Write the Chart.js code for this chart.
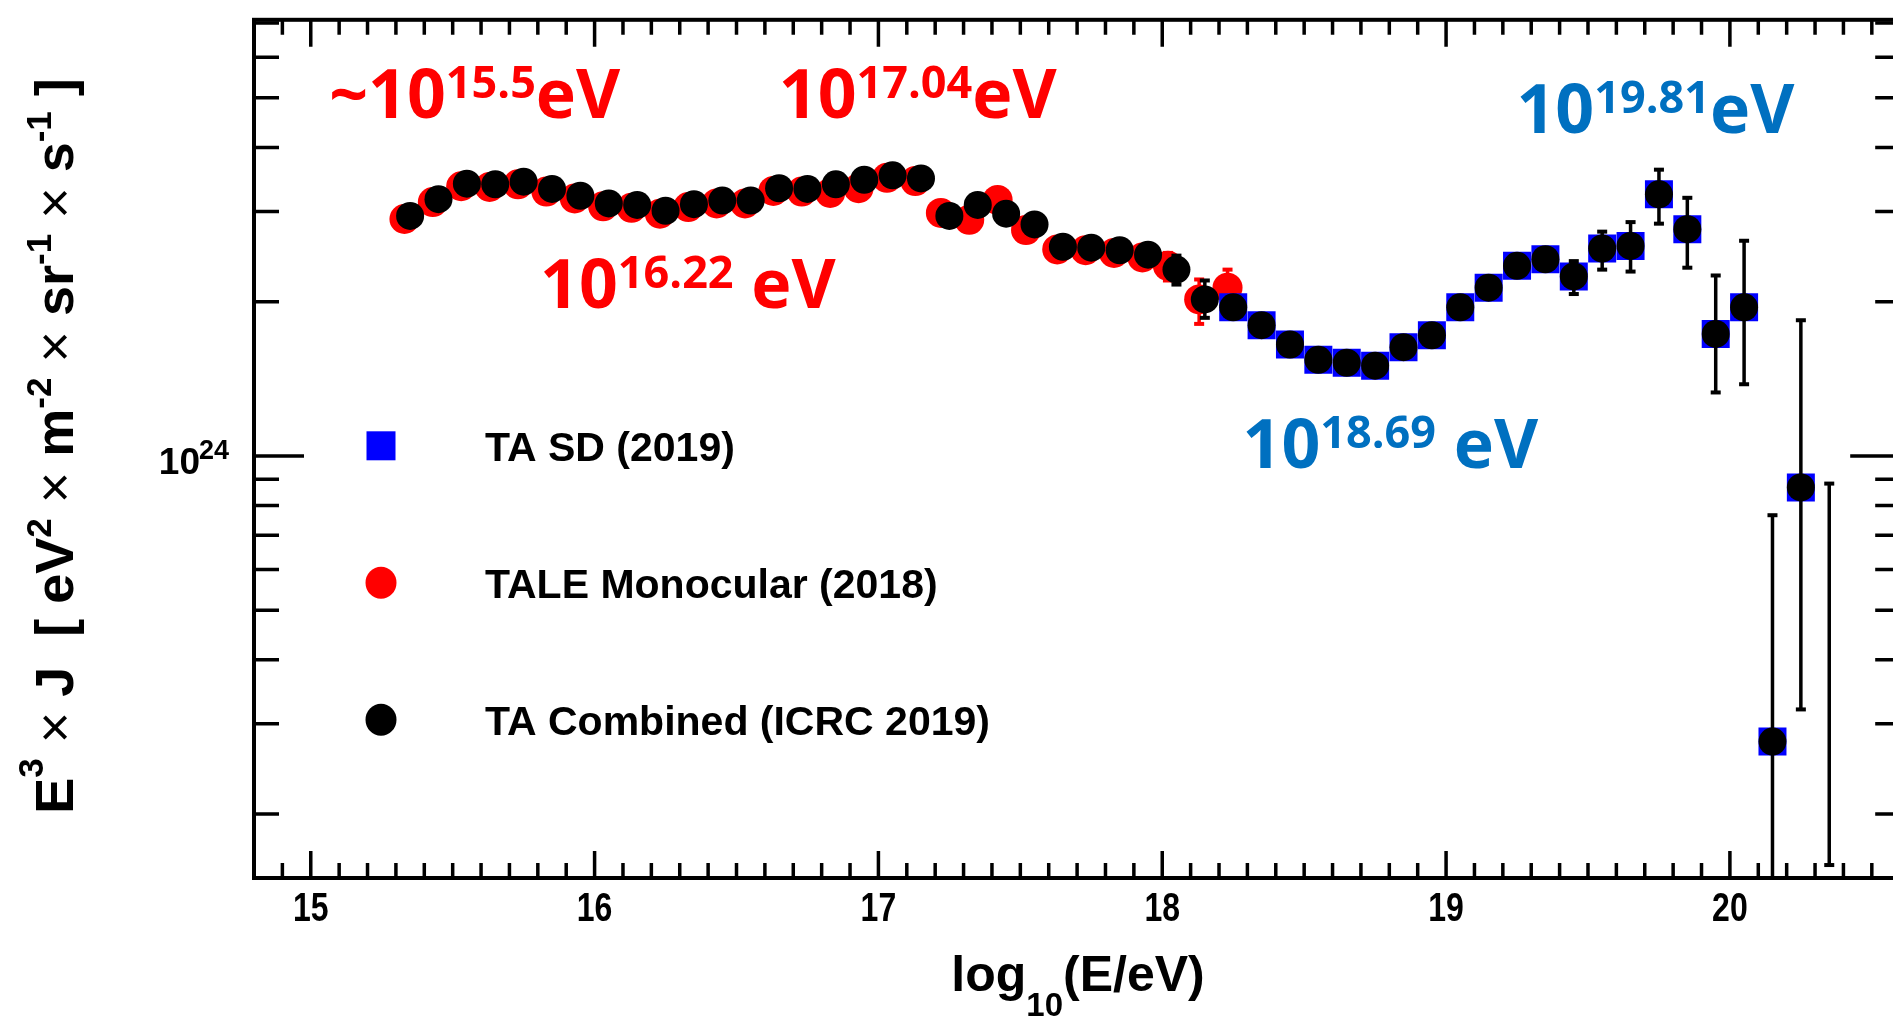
<!DOCTYPE html>
<html>
<head>
<meta charset="utf-8">
<title>TA energy spectrum</title>
<script src="https://cdn.jsdelivr.net/npm/chart.js@4.4.0/dist/chart.umd.min.js"></script>
<style>
  html, body { margin: 0; padding: 0; background: #fff; overflow: hidden; }
  #wrap { width: 1920px; height: 1017px; }
</style>
</head>
<body>
<div id="wrap"><canvas id="spectrum" width="1920" height="1017"></canvas></div>
<script>
// TA combined spectrum, E^3 J in eV^2 m^-2 sr^-1 s^-1 against log10(E/eV)
const combinedLogE = [15.35, 15.45, 15.55, 15.65, 15.75, 15.85, 15.95, 16.05, 16.15, 16.25,
  16.35, 16.45, 16.55, 16.65, 16.75, 16.85, 16.95, 17.05, 17.15, 17.25,
  17.35, 17.45, 17.55, 17.65, 17.75, 17.85, 17.95, 18.05, 18.15, 18.25,
  18.35, 18.45, 18.55, 18.65, 18.75, 18.85, 18.95, 19.05, 19.15, 19.25,
  19.35, 19.45, 19.55, 19.65, 19.75, 19.85, 19.95, 20.05, 20.15, 20.25, 20.35];
const combinedFlux = [2.94e24, 3.17e24, 3.40e24, 3.39e24, 3.43e24, 3.32e24, 3.22e24, 3.11e24, 3.09e24, 3.01e24,
  3.10e24, 3.15e24, 3.15e24, 3.33e24, 3.32e24, 3.39e24, 3.46e24, 3.53e24, 3.48e24, 2.94e24,
  3.09e24, 2.97e24, 2.83e24, 2.56e24, 2.55e24, 2.52e24, 2.47e24, 2.31e24, 2.02e24, 1.95e24,
  1.80e24, 1.65e24, 1.54e24, 1.52e24, 1.50e24, 1.63e24, 1.72e24, 1.95e24, 2.13e24, 2.35e24,
  2.42e24, 2.24e24, 2.54e24, 2.57e24, 3.24e24, 2.77e24, 1.73e24, 1.95e24, 2.77e23, 8.68e23, null];
// only the bars that stick out of the markers
const combinedErrLogE = [18.05, 18.15, 19.45, 19.55, 19.65, 19.75, 19.85, 19.95, 20.05, 20.15, 20.25, 20.35];
const combinedErrLow = [2.16e24, 1.86e24, 2.07e24, 2.31e24, 2.29e24, 2.84e24, 2.33e24, 1.33e24, 1.38e24, 1.0e23, 3.20e23, 1.59e23];
const combinedErrHigh = [2.46e24, 2.20e24, 2.40e24, 2.74e24, 2.86e24, 3.62e24, 3.19e24, 2.25e24, 2.63e24, 7.66e23, 1.84e24, 8.83e23];

const sdLogE = [18.25, 18.35, 18.45, 18.55, 18.65, 18.75, 18.85, 18.95, 19.05, 19.15,
  19.25, 19.35, 19.45, 19.55, 19.65, 19.75, 19.85, 19.95, 20.05, 20.15, 20.25];
const sdFlux = [1.95e24, 1.80e24, 1.65e24, 1.54e24, 1.52e24, 1.50e24, 1.63e24, 1.72e24, 1.95e24, 2.13e24,
  2.35e24, 2.42e24, 2.24e24, 2.54e24, 2.57e24, 3.24e24, 2.77e24, 1.73e24, 1.95e24, 2.77e23, 8.68e23];

const taleLogE = [15.33, 15.43, 15.53, 15.63, 15.73, 15.83, 15.93, 16.03, 16.13, 16.23,
  16.33, 16.43, 16.53, 16.63, 16.73, 16.83, 16.93, 17.03, 17.13, 17.22,
  17.32, 17.42, 17.52, 17.63, 17.73, 17.83, 17.93, 18.02, 18.13, 18.23];
const taleFlux = [2.90e24, 3.13e24, 3.36e24, 3.35e24, 3.39e24, 3.28e24, 3.18e24, 3.07e24, 3.05e24, 2.97e24,
  3.06e24, 3.11e24, 3.11e24, 3.29e24, 3.28e24, 3.26e24, 3.33e24, 3.49e24, 3.44e24, 2.98e24,
  2.89e24, 3.16e24, 2.76e24, 2.53e24, 2.52e24, 2.49e24, 2.44e24, 2.35e24, 2.02e24, 2.13e24];
const taleErrLogE = [18.02, 18.13, 18.23];
const taleErrLow = [2.20e24, 1.81e24, 1.95e24];
const taleErrHigh = [2.49e24, 2.21e24, 2.31e24];

const xTickValues = [15, 16, 17, 18, 19, 20];
const xTickLabels = ['15', '16', '17', '18', '19', '20'];
const yMajorValues = [1e24];
const yMajorLabels = [['10', '24']];
const yMinorValues = [2e23, 3e23, 4e23, 5e23, 6e23, 7e23, 8e23, 9e23, 2e24, 3e24, 4e24, 5e24, 6e24, 7e24];

// energies marked on the spectrum
const notes = [
  { parts: [['~10', 0], ['15.5', 1], ['eV', 0]], logE: 15.072, flux: 4.56e24, color: '#ff0000' },
  { parts: [['10', 0], ['17.04', 1], ['eV', 0]], logE: 16.663, flux: 4.56e24, color: '#ff0000' },
  { parts: [['10', 0], ['16.22', 1], [' eV', 0]], logE: 15.822, flux: 1.94e24, color: '#ff0000' },
  { parts: [['10', 0], ['19.81', 1], ['eV', 0]], logE: 19.262, flux: 4.26e24, color: '#0070c0' },
  { parts: [['10', 0], ['18.69', 1], [' eV', 0]], logE: 18.297, flux: 9.45e23, color: '#0070c0' }
];

const legendOrder = [1, 2, 0];

function points(xs, ys) {
  return xs.map((x, i) => ({ x: x, y: ys[i] }));
}

function drawParts(ctx, parts, x, y) {
  let cx = x;
  parts.forEach(p => {
    ctx.font = p.font;
    ctx.fillText(p.text, cx, y - p.rise);
    cx += ctx.measureText(p.text).width;
  });
  return cx - x;
}

function partsWidth(ctx, parts) {
  let w = 0;
  parts.forEach(p => { ctx.font = p.font; w += ctx.measureText(p.text).width; });
  return w;
}

const errorBars = {
  id: 'errorBars',
  beforeDatasetDraw(chart, args) {
    const ds = chart.data.datasets[args.index];
    if (!ds.errLogE) return;
    const { ctx, chartArea: a, scales: { x, y } } = chart;
    ctx.save();
    ctx.beginPath();
    ctx.rect(a.left, a.top, a.right - a.left, a.bottom - a.top);
    ctx.clip();
    ctx.strokeStyle = ds.errColor;
    ctx.fillStyle = ds.errColor;
    ctx.lineWidth = 3.5;
    ds.errLogE.forEach((e, i) => {
      const px = x.getPixelForValue(e);
      const top = y.getPixelForValue(ds.errHigh[i]);
      const bot = y.getPixelForValue(ds.errLow[i]);
      ctx.beginPath();
      ctx.moveTo(px, top);
      ctx.lineTo(px, bot);
      ctx.stroke();
      ctx.fillRect(px - 5, top - 2, 10, 4);
      if (bot < a.bottom - 2) ctx.fillRect(px - 5, bot - 2, 10, 4);
    });
    ctx.restore();
  }
};

const frameAndText = {
  id: 'frameAndText',
  afterDraw(chart) {
    const { ctx, chartArea: a, scales: { x, y } } = chart;
    ctx.save();
    ctx.strokeStyle = '#000';
    ctx.fillStyle = '#000';

    // ticks point inward on all four sides
    ctx.lineWidth = 3.5;
    ctx.beginPath();
    for (let k = 149; k <= 205; k++) {
      const px = x.getPixelForValue(k / 10);
      const len = k % 10 === 0 ? 27 : 15;
      ctx.moveTo(px, a.bottom); ctx.lineTo(px, a.bottom - len);
      ctx.moveTo(px, a.top); ctx.lineTo(px, a.top + len);
    }
    yMinorValues.forEach(v => {
      const py = y.getPixelForValue(v);
      ctx.moveTo(a.left, py); ctx.lineTo(a.left + 25, py);
      ctx.moveTo(a.right, py); ctx.lineTo(a.right - 25, py);
    });
    yMajorValues.forEach(v => {
      const py = y.getPixelForValue(v);
      ctx.moveTo(a.left, py); ctx.lineTo(a.left + 50, py);
      ctx.moveTo(a.right, py); ctx.lineTo(a.right - 50, py);
    });
    ctx.stroke();

    ctx.lineWidth = 4;
    ctx.strokeRect(a.left, a.top, a.right - a.left, a.bottom - a.top);

    // tick labels (narrow, as in the original figure)
    ctx.font = 'bold 40px "Liberation Sans"';
    ctx.textAlign = 'center';
    ctx.textBaseline = 'alphabetic';
    xTickValues.forEach((v, i) => {
      ctx.save();
      ctx.translate(x.getPixelForValue(v), a.bottom + 43);
      ctx.scale(0.8, 1);
      ctx.fillText(xTickLabels[i], 0, 0);
      ctx.restore();
    });
    yMajorValues.forEach((v, i) => {
      const py = y.getPixelForValue(v);
      ctx.textAlign = 'right';
      ctx.font = 'bold 37px "Liberation Sans"';
      ctx.fillText(yMajorLabels[i][0], a.left - 54, py + 18);
      ctx.textAlign = 'left';
      ctx.font = 'bold 27px "Liberation Sans"';
      ctx.fillText(yMajorLabels[i][1], a.left - 55, py + 3);
    });

    // axis titles
    ctx.textAlign = 'left';
    const xTitle = [
      { text: 'log', font: 'bold 50px "Liberation Sans"', rise: 0 },
      { text: '10', font: 'bold 33px "Liberation Sans"', rise: -25 },
      { text: '(E/eV)', font: 'bold 50px "Liberation Sans"', rise: 0 }
    ];
    const xw = partsWidth(ctx, xTitle);
    drawParts(ctx, xTitle, 1078 - xw / 2, a.bottom + 113);

    const b = 'bold 54px "Liberation Sans"';
    const s = 'bold 35px "Liberation Sans"';
    const t = '54px "Liberation Sans"';
    const yTitle = [
      { text: 'E', font: b, rise: 0 }, { text: '3', font: s, rise: 30 },
      { text: ' \u00d7 ', font: t, rise: 0 }, { text: 'J', font: b, rise: 0 },
      { text: '  [ ', font: b, rise: 0 }, { text: 'eV', font: b, rise: 0 },
      { text: '2', font: s, rise: 22 }, { text: ' \u00d7 ', font: t, rise: 0 },
      { text: 'm', font: b, rise: 0 }, { text: '-2', font: s, rise: 22 },
      { text: ' \u00d7 ', font: t, rise: 0 }, { text: 'sr', font: b, rise: 0 },
      { text: '-1', font: s, rise: 22 }, { text: ' \u00d7 ', font: t, rise: 0 },
      { text: 's', font: b, rise: 0 }, { text: '-1', font: s, rise: 22 },
      { text: ' ]', font: b, rise: 0 }
    ];
    const yw = partsWidth(ctx, yTitle);
    ctx.save();
    ctx.translate(73, 446);
    ctx.rotate(-Math.PI / 2);
    drawParts(ctx, yTitle, -yw / 2, 0);
    ctx.restore();

    // legend inside the frame
    legendOrder.forEach((di, row) => {
      const ds = chart.data.datasets[di];
      const mx = a.left + 127;
      const my = a.top + 426 + row * 137;
      ctx.fillStyle = ds.backgroundColor;
      if (ds.pointStyle === 'rect') {
        ctx.fillRect(mx - 14.5, my - 14.5, 29, 29);
      } else {
        ctx.beginPath();
        ctx.ellipse(mx, my, 15.5, 16, 0, 0, Math.PI * 2);
        ctx.fill();
      }
      ctx.fillStyle = '#000';
      ctx.font = 'bold 41px "Liberation Sans"';
      ctx.fillText(ds.label, a.left + 231, my + 15);
    });

    // energy markers
    notes.forEach(n => {
      const parts = n.parts.map(p => ({
        text: p[0],
        font: p[1] ? 'bold 45px "Open Sans"' : 'bold 68px "Open Sans"',
        rise: p[1] ? 20 : 0
      }));
      ctx.font = parts[0].font;
      const bearing = ctx.measureText(parts[0].text).actualBoundingBoxLeft;
      ctx.fillStyle = n.color;
      drawParts(ctx, parts, x.getPixelForValue(n.logE) + bearing, y.getPixelForValue(n.flux));
    });
    ctx.restore();
  }
};

new Chart(document.getElementById('spectrum'), {
  type: 'scatter',
  data: {
    datasets: [
      {
        label: 'TA Combined (ICRC 2019)',
        data: points(combinedLogE, combinedFlux),
        backgroundColor: '#000000',
        pointStyle: 'circle',
        pointRadius: 14,
        pointBorderWidth: 0,
        errLogE: combinedErrLogE, errLow: combinedErrLow, errHigh: combinedErrHigh, errColor: '#000000'
      },
      {
        label: 'TA SD (2019)',
        data: points(sdLogE, sdFlux),
        backgroundColor: '#0000ff',
        pointStyle: 'rect',
        pointRadius: 19.8,
        pointBorderWidth: 0
      },
      {
        label: 'TALE Monocular (2018)',
        data: points(taleLogE, taleFlux),
        backgroundColor: '#ff0000',
        pointStyle: 'circle',
        pointRadius: 15,
        pointBorderWidth: 0,
        errLogE: taleErrLogE, errLow: taleErrLow, errHigh: taleErrHigh, errColor: '#ff0000'
      }
    ]
  },
  options: {
    responsive: false,
    animation: false,
    devicePixelRatio: 1,
    layout: { padding: { left: 254, top: 16, right: 15, bottom: 139 } },
    scales: {
      x: { type: 'linear', min: 14.8, max: 20.6, display: false },
      y: { type: 'logarithmic', min: 1.5e23, max: 7.1e24, display: false }
    },
    plugins: { legend: { display: false }, tooltip: { enabled: false } },
    events: []
  },
  plugins: [errorBars, frameAndText]
});
</script>
</body>
</html>
